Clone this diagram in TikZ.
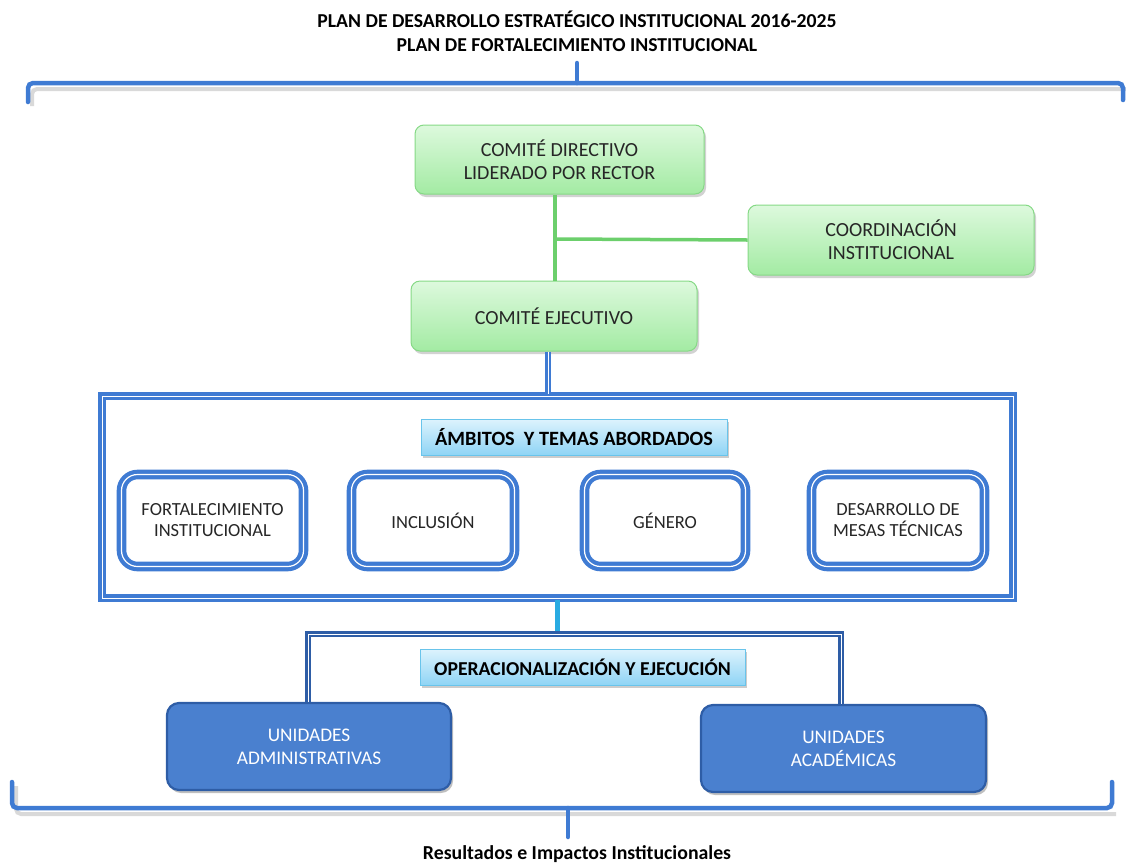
\documentclass[tikz,border=0pt]{standalone}
\usepackage{fontspec}
\setmainfont{Carlito}
\usetikzlibrary{shadows}
\definecolor{gborder}{HTML}{86D986}
\definecolor{gtop}{HTML}{DDF9DD}
\definecolor{gbot}{HTML}{A3EBA3}
\definecolor{gline}{HTML}{6CCF6C}
\definecolor{bline}{HTML}{3F7BD3}
\definecolor{bdark}{HTML}{2E5DA6}
\definecolor{bfill}{HTML}{4A80CF}
\definecolor{lblue}{HTML}{29ABE2}
\definecolor{ltop}{HTML}{DDF3FD}
\definecolor{lbot}{HTML}{8FD4F5}
\definecolor{txt}{HTML}{262626}
\tikzset{
  fs/.style 2 args={font=\fontsize{#1}{#2}\selectfont},
  greenbox/.style={draw=gborder, line width=1pt, rounded corners=9pt, top color=gtop, bottom color=gbot,
    align=center, text=txt, fs={20}{23}, inner sep=0pt,
    drop shadow={shadow xshift=2pt, shadow yshift=-3pt, fill=black!35, opacity=0.5}},
  themebox/.style={draw=bline, line width=4.2pt, double=white, double distance=1.2pt, rounded corners=16pt,
    fill=white, align=center, text=txt, fs={18.5}{21}, inner sep=0pt},
  labelbox/.style={draw=lblue!70, line width=0.8pt, top color=ltop, bottom color=lbot,
    font=\bfseries\fontsize{20.3}{22}\selectfont, text=black, inner sep=0pt,
    drop shadow={shadow xshift=2pt, shadow yshift=-3pt, fill=black!40, opacity=0.5}},
  unitbox/.style={draw=bdark, line width=2.2pt, rounded corners=12pt, fill=bfill, text=white,
    align=center, fs={19.3}{23}, inner sep=0pt,
    drop shadow={shadow xshift=2pt, shadow yshift=-3pt, fill=black!50, opacity=0.5}},
  frame/.style={draw=bline, line width=3.6pt, double=white, double distance=1pt, inner sep=0pt},
  gconn/.style={draw=gline, line width=3.5pt},
  bconn/.style={draw=bline, line width=3pt, double=white, double distance=0.8pt},
  lconn/.style={draw=lblue, line width=5pt},
  dconn/.style={draw=bdark, line width=3pt, double=white, double distance=0.8pt},
  brace/.style={draw=bline, line width=4.5pt, rounded corners=5pt, line cap=round},
  braceshadow/.style={draw=black!25, line width=4pt, rounded corners=5pt, opacity=0.6},
  titletext/.style={font=\bfseries\fontsize{19.7}{24}\selectfont, align=center, text=black}
}
\begin{document}
\begin{tikzpicture}[x=1pt,y=-1pt]
\useasboundingbox (0,0) rectangle (1126,865);

% title
\node[titletext] (title) at (577,31) {PLAN DE DESARROLLO ESTRATÉGICO INSTITUCIONAL 2016-2025\\PLAN DE FORTALECIMIENTO INSTITUCIONAL};

% top brace
\draw[braceshadow] (32,106) -- (32,89) -- (1126,89);
\draw[brace] (28,102) -- (28,83) -- (1123,83) -- (1123,100);
\draw[brace] (577,83) -- (577,63);
\coordinate (toptip) at (577,63);

% committee boxes
\node[greenbox, minimum width=289pt, minimum height=69pt] (dir) at (559.5,159.5) {COMITÉ DIRECTIVO\\LIDERADO POR RECTOR};
\node[greenbox, minimum width=286pt, minimum height=70pt] (coord) at (891,240) {COORDINACIÓN\\INSTITUCIONAL};
\node[greenbox, minimum width=286pt, minimum height=70pt] (ejec) at (554,316) {COMITÉ EJECUTIVO};

\coordinate (gj) at (555,239);
\draw[gconn] (dir.south -| gj) -- (ejec.north -| gj);
\draw[gconn] (gj) -- (coord.west);

% frame with themes
\node[frame, minimum width=911pt, minimum height=202pt] (frame) at (557.5,497) {};
\coordinate (bj) at (548,0);
\draw[bconn] (ejec.south -| bj) -- (frame.north -| bj);

\node[labelbox, minimum width=306pt, minimum height=36pt] (amb) at (574,437) {ÁMBITOS\ \ Y TEMAS ABORDADOS};

\node[themebox, minimum width=182pt, minimum height=92pt] (t1) at (212.5,520.5) {FORTALECIMIENTO\\INSTITUCIONAL};
\node[themebox, minimum width=163pt, minimum height=92pt] (t2) at (433,520.5) {INCLUSIÓN};
\node[themebox, minimum width=161pt, minimum height=92pt] (t3) at (665,520.5) {GÉNERO};
\node[themebox, minimum width=173pt, minimum height=92pt] (t4) at (898,520.5) {DESARROLLO DE\\MESAS TÉCNICAS};

% operational bracket
\coordinate (lj) at (557,634);
\draw[lconn] (frame.south -| lj) -- (lj);

\node[unitbox, minimum width=284pt, minimum height=87pt] (adm) at (309,746.5) {UNIDADES\\ADMINISTRATIVAS};
\node[unitbox, minimum width=285pt, minimum height=87pt] (acad) at (843.5,748.5) {UNIDADES\\ACADÉMICAS};

\draw[dconn] (adm.north -| 308,0) -- (308,634) -- (841,634) -- (acad.north -| 841,0);

\node[labelbox, minimum width=325pt, minimum height=36pt, font=\bfseries\fontsize{19.7}{22}\selectfont] (oper) at (582.5,667) {OPERACIONALIZACIÓN Y EJECUCIÓN};

% bottom brace
\draw[braceshadow] (16,786) -- (16,814) -- (1116,814);
\draw[brace] (12,782) -- (12,808) -- (1112,808) -- (1112,782);
\draw[brace] (568,808) -- (568,837);
\coordinate (bottip) at (568,837);

\node[font=\bfseries\fontsize{19.8}{22}\selectfont, text=black] (res) at (577,854) {Resultados e Impactos Institucionales};
\end{tikzpicture}
\end{document}
